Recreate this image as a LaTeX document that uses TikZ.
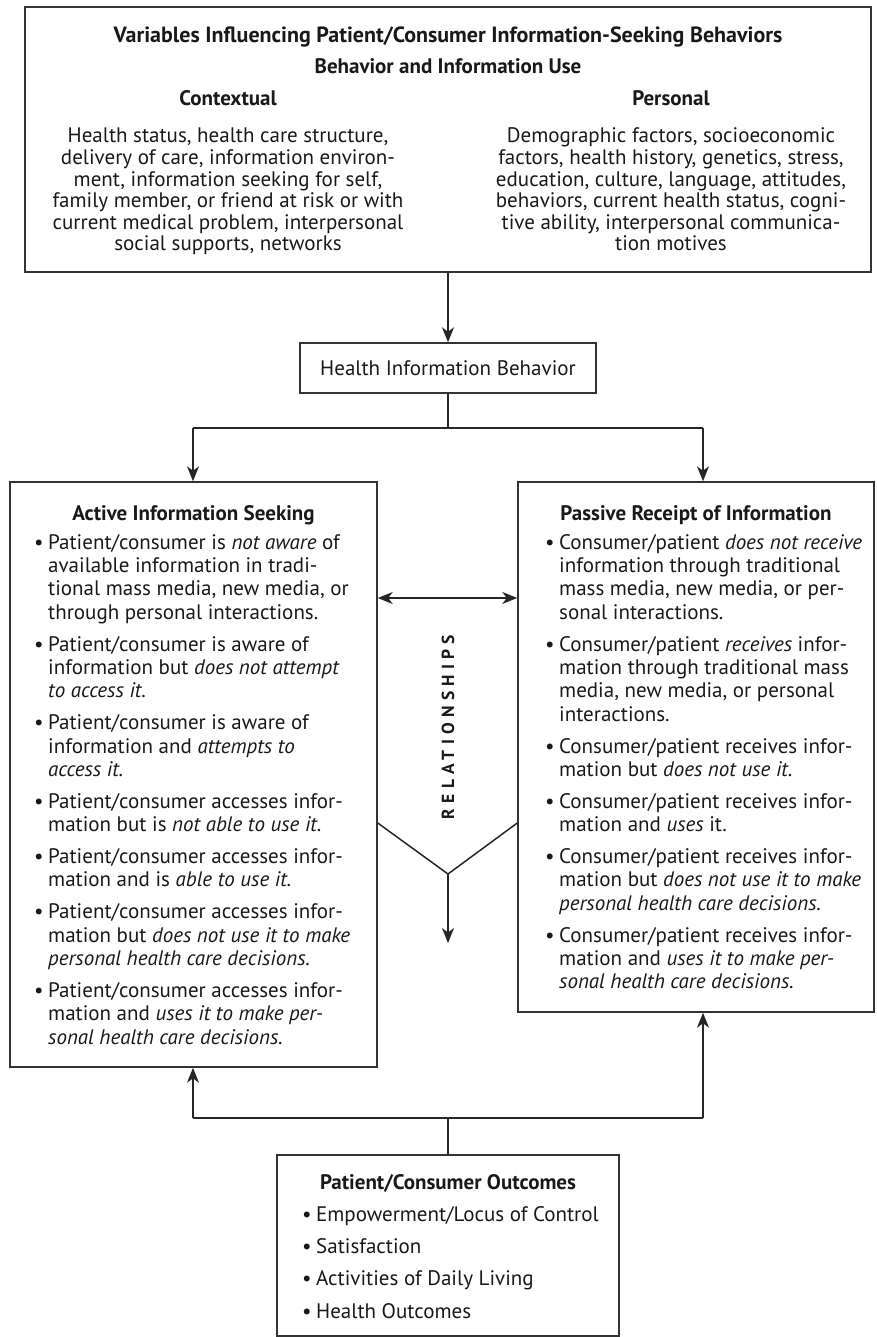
\documentclass[tikz,border=0pt]{standalone}
\usepackage{fontspec}
\setmainfont{PT Sans}
\newfontfamily\spacedfont[LetterSpace=30]{PT Sans}
\usetikzlibrary{arrows.meta,positioning}

\newcommand{\blt}{\makebox[14pt][l]{\textbullet}}
\newcommand{\bltcont}{\hspace*{14pt}}

\begin{document}
\begin{tikzpicture}[x=1pt,y=-1pt]
    % Define styles
    \tikzstyle{panel} = [rectangle, draw=black!80, line width=1.5pt, inner sep=0pt]
    \tikzstyle{body} = [font=\fontsize{21}{21.6}\selectfont, text=black!90, align=center, anchor=base, inner sep=0pt]
    \tikzstyle{head} = [font=\fontsize{21}{21.6}\selectfont\bfseries, text=black!90, anchor=base, inner sep=0pt]
    \tikzstyle{listtext} = [font=\fontsize{21}{23.4}\selectfont, text=black!90, align=left, anchor=base west, inner sep=0pt]
    \tikzstyle{arrow} = [line width=1.5pt, draw=black!85, -{Stealth[length=15pt,width=12pt,inset=4.5pt]}]
    \tikzstyle{dblarrow} = [line width=1.5pt, draw=black!85, {Stealth[length=15pt,width=12pt,inset=4.5pt]}-{Stealth[length=15pt,width=12pt,inset=4.5pt]}]
    \tikzstyle{link} = [line width=1.5pt, draw=black!85]

    \useasboundingbox (0,0) rectangle (876,1337);

    % Variables box (multi-line texts sit on their last line)
    \node[panel, minimum width=846, minimum height=265] (vars) at (448,139.5) {};
    \node[head, font=\fontsize{22}{22}\selectfont\bfseries] (title) at (448,43) {Variables Influencing Patient/Consumer Information-Seeking Behaviors};
    \node[head] (subtitle) at (448,74) {Behavior and Information Use};
    \node[head] (ctx) at (228,106) {Contextual};
    \node[head] (pers) at (671,106) {Personal};
    \node[body] (ctxtext) at (228,251) {Health status, health care structure,\\
        delivery of care, information environ-\\
        ment, information seeking for self,\\
        family member, or friend at risk or with\\
        current medical problem, interpersonal\\
        social supports, networks};
    \node[body] (perstext) at (671,251) {Demographic factors, socioeconomic\\
        factors, health history, genetics, stress,\\
        education, culture, language, attitudes,\\
        behaviors, current health status, cogni-\\
        tive ability, interpersonal communica-\\
        tion motives};

    % Health information behavior
    \node[panel, minimum width=296, minimum height=50, font=\fontsize{21}{21.6}\selectfont, text=black!90] (hib) at (448,368) {Health Information Behavior};

    % Active information seeking
    \node[panel, minimum width=367, minimum height=585] (active) at (193.5,774.5) {};
    \node[head] (activehead) at (193.5,520) {Active Information Seeking};
    \node[listtext] (activelist) at (34,1044) {%
        \blt Patient/consumer is \textit{not aware} of\\
        \bltcont available information in tradi-\\
        \bltcont tional mass media, new media, or\\
        \bltcont through personal interactions.\\[8.4pt]
        \blt Patient/consumer is aware of\\
        \bltcont information but \textit{does not attempt}\\
        \bltcont \textit{to access it.}\\[8.4pt]
        \blt Patient/consumer is aware of\\
        \bltcont information and \textit{attempts to}\\
        \bltcont \textit{access it.}\\[8.4pt]
        \blt Patient/consumer accesses infor-\\
        \bltcont mation but is \textit{not able to use it.}\\[8.4pt]
        \blt Patient/consumer accesses infor-\\
        \bltcont mation and is \textit{able to use it.}\\[8.4pt]
        \blt Patient/consumer accesses infor-\\
        \bltcont mation but \textit{does not use it to make}\\
        \bltcont \textit{personal health care decisions.}\\[8.4pt]
        \blt Patient/consumer accesses infor-\\
        \bltcont mation and \textit{uses it to make per-}\\
        \bltcont \textit{sonal health care decisions.}};

    % Passive receipt of information
    \node[panel, minimum width=356, minimum height=530] (passive) at (696,747) {};
    \node[head] (passivehead) at (696,520) {Passive Receipt of Information};
    \node[listtext] (passivelist) at (545,988.8) {%
        \blt Consumer/patient \textit{does not receive}\\
        \bltcont information through traditional\\
        \bltcont mass media, new media, or per-\\
        \bltcont sonal interactions.\\[8.4pt]
        \blt Consumer/patient \textit{receives} infor-\\
        \bltcont mation through traditional mass\\
        \bltcont media, new media, or personal\\
        \bltcont interactions.\\[8.4pt]
        \blt Consumer/patient receives infor-\\
        \bltcont mation but \textit{does not use it.}\\[8.4pt]
        \blt Consumer/patient receives infor-\\
        \bltcont mation and \textit{uses} it.\\[8.4pt]
        \blt Consumer/patient receives infor-\\
        \bltcont mation but \textit{does not use it to make}\\
        \bltcont \textit{personal health care decisions.}\\[8.4pt]
        \blt Consumer/patient receives infor-\\
        \bltcont mation and \textit{uses it to make per-}\\
        \bltcont \textit{sonal health care decisions.}};

    % Relationships
    \node[font=\fontsize{17.5}{20}\selectfont\spacedfont\bfseries, text=black!90, rotate=90] (rellabel) at (448,727) {RELATIONSHIPS};

    % Outcomes
    \node[panel, minimum width=342, minimum height=181] (outcomes) at (448,1245.5) {};
    \node[head] (outhead) at (448,1189) {Patient/Consumer Outcomes};
    \node[listtext, font=\fontsize{21}{32.3}\selectfont] (outlist) at (302,1318) {%
        \blt Empowerment/Locus of Control\\
        \blt Satisfaction\\
        \blt Activities of Daily Living\\
        \blt Health Outcomes};

    % Connections
    \coordinate (split) at (448,428);
    \coordinate (splitL) at (193,428);
    \coordinate (splitR) at (703,428);
    \coordinate (rel) at (448,598);
    \coordinate (vtop) at (448,823);
    \coordinate (vjoin) at (448,874);
    \coordinate (vend) at (448,943);
    \coordinate (merge) at (448,1118);
    \coordinate (mergeL) at (193,1118);
    \coordinate (mergeR) at (703,1118);

    \draw[arrow] (vars) -- (hib);
    \draw[link] (hib) -- (split);
    \draw[link] (splitL) -- (splitR);
    \draw[arrow] (splitL) -- (splitL |- active.north);
    \draw[arrow] (splitR) -- (splitR |- passive.north);
    \draw[dblarrow] (rel -| active.east) -- (rel -| passive.west);
    \draw[link] (vtop -| active.east) -- (vjoin) -- (vtop -| passive.west);
    \draw[arrow] (vjoin) -- (vend);
    \draw[link] (outcomes) -- (merge);
    \draw[link] (mergeL) -- (mergeR);
    \draw[arrow] (mergeL) -- (mergeL |- active.south);
    \draw[arrow] (mergeR) -- (mergeR |- passive.south);
\end{tikzpicture}
\end{document}
